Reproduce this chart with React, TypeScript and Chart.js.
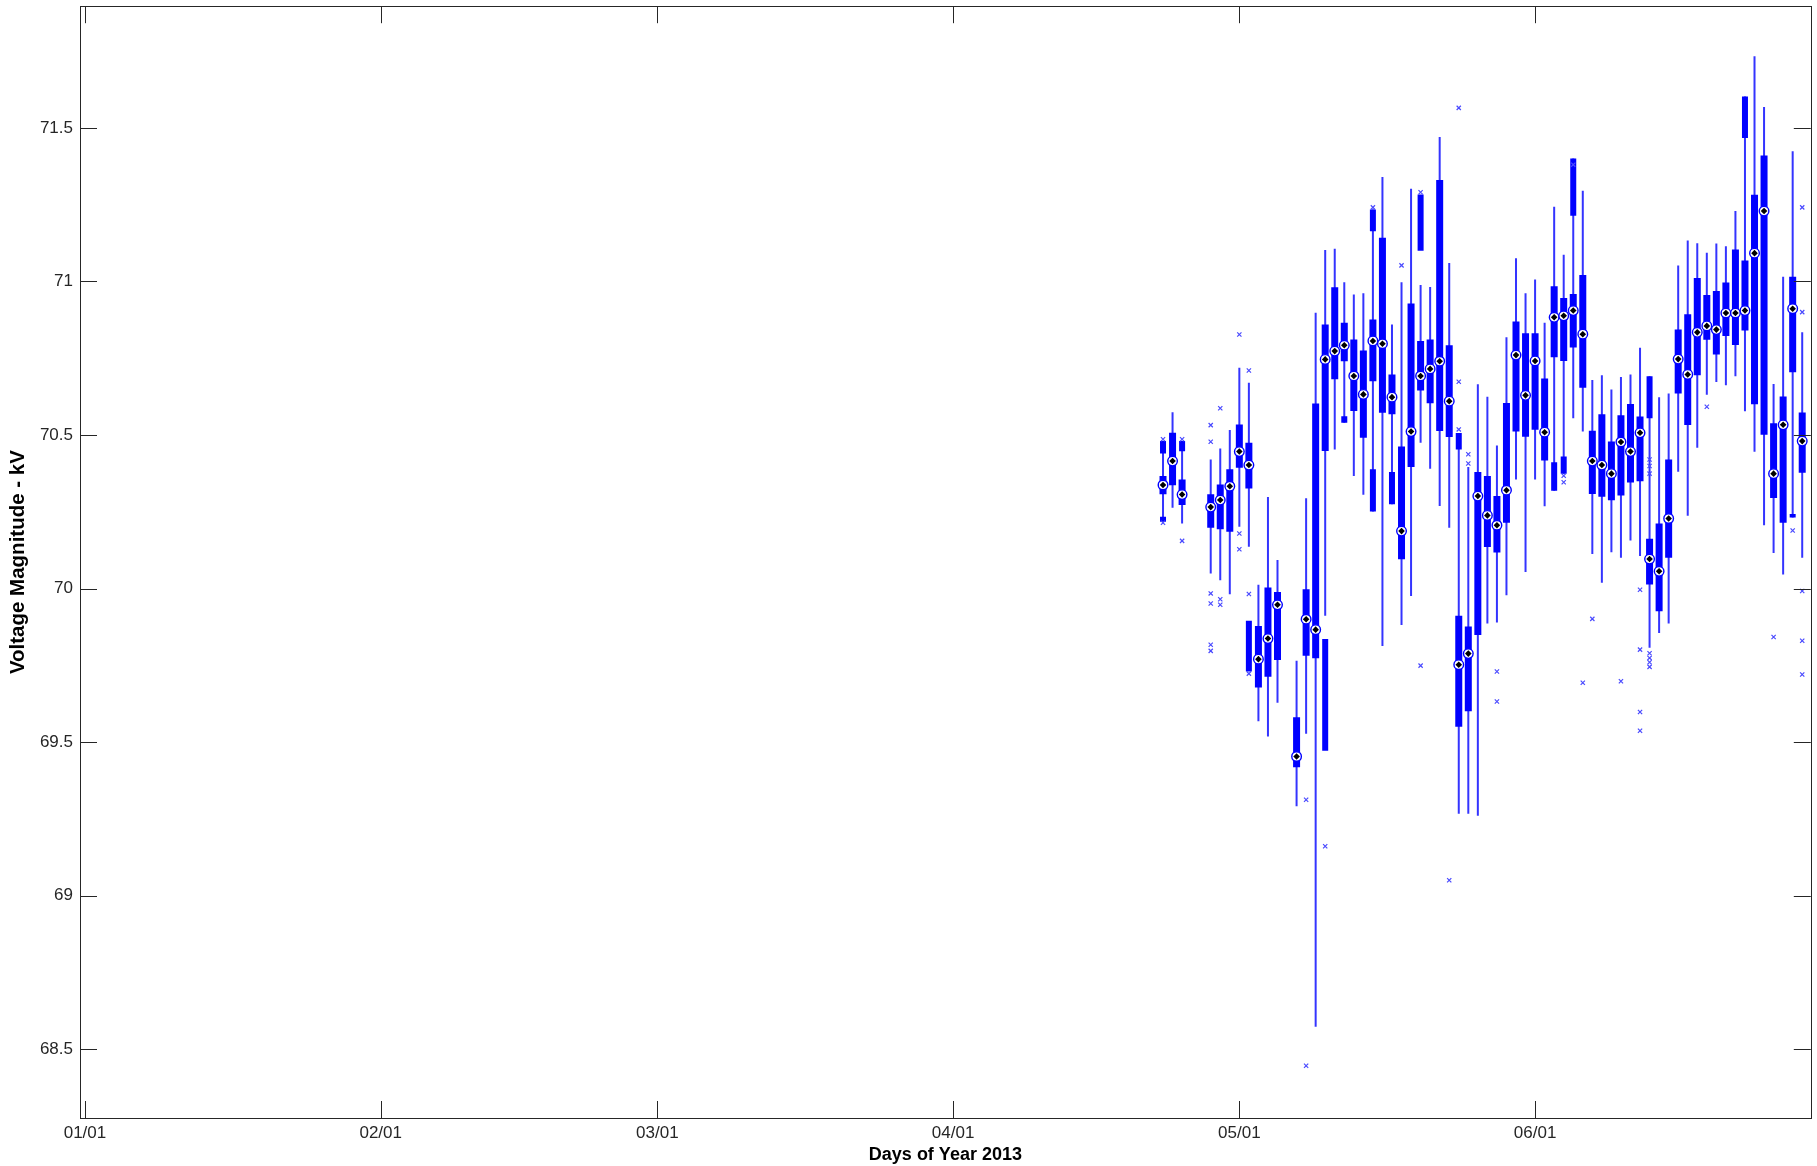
import React, { useEffect, useRef } from 'react';
import { Chart, registerables } from 'chart.js';

Chart.register(...registerables);

// x positions are day numbers counted from 01/01 (tick spacing as in the reference)
const xTickDays = [0, 31, 60, 91, 121, 152];
const xTickLabels = ['01/01', '02/01', '03/01', '04/01', '05/01', '06/01'];
const yTickValues = [68.5, 69, 69.5, 70, 70.5, 71, 71.5];
const yTickLabels = ['68.5', '69', '69.5', '70', '70.5', '71', '71.5'];

const boxDays = [
  113, 114, 115, 118, 119, 120, 121, 122, 123, 124, 125, 127, 128, 129, 130, 131, 132, 133, 134, 135,
  136, 137, 138, 139, 140, 141, 142, 143, 144, 145, 146, 147, 148, 149, 150, 151, 152, 153, 154, 155,
  156, 157, 158, 159, 160, 161, 162, 163, 164, 165, 166, 167, 168, 169, 170, 171, 172, 173, 174, 175,
  176, 177, 178, 179, 180,
];
const medianValues = [
  70.337, 70.415, 70.306, 70.265, 70.288, 70.333, 70.446, 70.402, 69.77, 69.837, 69.947, 69.453, 69.9, 69.866, 70.746, 70.773, 70.792, 70.692, 70.632, 70.806,
  70.797, 70.623, 70.187, 70.511, 70.692, 70.715, 70.74, 70.61, 69.752, 69.788, 70.301, 70.238, 70.206, 70.32, 70.76, 70.629, 70.741, 70.509, 70.883, 70.888,
  70.905, 70.828, 70.415, 70.402, 70.374, 70.477, 70.446, 70.507, 70.096, 70.056, 70.228, 70.747, 70.697, 70.834, 70.855, 70.843, 70.897, 70.897, 70.905, 71.092,
  71.229, 70.374, 70.533, 70.911, 70.48,
];
const boxLow = [
  70.307, 70.336, 70.272, 70.198, 70.193, 70.185, 70.393, 70.326, 69.678, 69.713, 69.767, 69.418, 69.781, 69.773, 70.448, 70.681, 70.74, 70.578, 70.491, 70.675,
  70.572, 70.567, 70.095, 70.396, 70.645, 70.603, 70.513, 70.493, 69.55, 69.6, 69.849, 70.135, 70.117, 70.214, 70.511, 70.494, 70.517, 70.417, 70.753, 70.741,
  70.785, 70.654, 70.308, 70.299, 70.287, 70.303, 70.345, 70.349, 70.013, 69.926, 70.1, 70.635, 70.532, 70.694, 70.81, 70.762, 70.822, 70.793, 70.84, 70.6,
  70.501, 70.295, 70.214, 70.704, 70.377,
];
const boxHigh = [
  70.366, 70.507, 70.355, 70.307, 70.339, 70.388, 70.534, 70.475, 69.878, 70.003, 69.989, 69.581, 69.998, 70.602, 70.86, 70.981, 70.865, 70.811, 70.775, 70.876,
  71.142, 70.697, 70.462, 70.928, 70.806, 70.811, 71.33, 70.792, 69.911, 69.876, 70.379, 70.366, 70.301, 70.604, 70.869, 70.831, 70.831, 70.684, 70.984, 70.946,
  70.959, 71.021, 70.514, 70.567, 70.479, 70.564, 70.601, 70.56, 70.162, 70.212, 70.42, 70.843, 70.893, 71.011, 70.956, 70.969, 70.996, 71.104, 71.068, 71.282,
  71.41, 70.538, 70.625, 71.015, 70.573,
];
const whiskerLow = [
  70.217, 70.263, 70.212, 70.049, 70.027, 69.981, 70.201, 70.136, 69.568, 69.518, 69.628, 69.291, 69.527, 68.573, 69.911, 70.453, 70.54, 70.366, 70.305, 70.251,
  69.813, 70.274, 69.881, 69.976, 70.475, 70.39, 70.269, 70.198, 69.267, 69.267, 69.26, 69.886, 69.889, 69.978, 70.355, 70.054, 70.355, 70.268, 70.318, 70.374,
  70.554, 70.511, 70.112, 70.019, 70.118, 70.1, 70.156, 70.106, 69.807, 69.855, 69.886, 70.38, 70.237, 70.458, 70.631, 70.672, 70.662, 70.691, 70.577, 70.445,
  70.206, 70.116, 70.046, 70.231, 70.1,
];
const whiskerHigh = [
  70.48, 70.574, 70.48, 70.42, 70.456, 70.516, 70.719, 70.67, 70.012, 70.298, 70.093, 69.765, 70.294, 70.898, 71.102, 71.106, 70.997, 70.957, 70.961, 71.234,
  71.34, 70.86, 70.997, 71.302, 70.988, 70.982, 71.47, 71.06, 70.506, 70.396, 70.665, 70.624, 70.466, 70.818, 71.075, 70.961, 71.006, 70.865, 71.243, 71.087,
  71.4, 71.295, 70.679, 70.694, 70.648, 70.689, 70.697, 70.784, 70.691, 70.623, 70.635, 71.052, 71.133, 71.124, 71.093, 71.123, 71.114, 71.229, 71.602, 71.733,
  71.568, 70.666, 71.015, 71.424, 70.834,
];

// dense runs of outliers that render as solid bars
const clusterDays = [113, 113, 115, 122, 130, 132, 135, 135, 137, 140, 144, 154, 155, 156, 164, 174, 179];
const clusterLow = [70.44, 70.217, 70.447, 69.73, 69.472, 70.54, 71.163, 70.251, 70.274, 71.1, 70.453, 70.318, 70.374, 71.214, 70.554, 71.467, 70.231];
const clusterHigh = [70.48, 70.234, 70.48, 69.895, 69.836, 70.561, 71.234, 70.388, 70.379, 71.283, 70.506, 70.411, 70.43, 71.4, 70.691, 71.602, 70.243];

const outlierDays = [
  113, 113, 115, 115, 118, 118, 118, 118, 118, 118, 119, 119, 119, 121, 121, 121, 122, 122, 122, 128,
  128, 130, 135, 138, 140, 140, 143, 144, 144, 144, 145, 145, 148, 148, 155, 155, 156, 157, 158, 161,
  163, 163, 163, 163, 164, 164, 164, 164, 164, 164, 164, 170, 177, 179, 180, 180, 180, 180, 180,
];
const outlierValues = [
  70.486, 70.214, 70.486, 70.155, 70.532, 70.478, 69.984, 69.951, 69.817, 69.797, 70.587, 69.965, 69.947, 70.827, 70.179, 70.128, 70.71, 69.982, 69.723, 69.312,
  68.446, 69.161, 71.241, 71.052, 71.29, 69.749, 69.05, 71.565, 70.673, 70.518, 70.437, 70.407, 69.73, 69.632, 70.367, 70.346, 71.38, 69.693, 69.901, 69.698,
  69.996, 69.801, 69.598, 69.537, 70.42, 70.399, 70.374, 69.789, 69.774, 69.76, 69.745, 70.592, 69.842, 70.189, 71.241, 70.9, 69.992, 69.83, 69.72,
];

const FONT = '"Liberation Sans", Arial, Helvetica, sans-serif';
const AXIS_COLOR = '#262626';
const TICK_LEN = 17;

const framePlugin = {
  id: 'matlabFrame',
  afterDraw(chart: any) {
    const { ctx, chartArea, scales } = chart;
    const { left, right, top, bottom } = chartArea;
    ctx.save();
    ctx.strokeStyle = AXIS_COLOR;
    ctx.lineWidth = 1;
    ctx.beginPath();
    xTickDays.forEach((d) => {
      const px = Math.round(scales.x.getPixelForValue(d)) + 0.5;
      ctx.moveTo(px, bottom);
      ctx.lineTo(px, bottom - TICK_LEN);
      ctx.moveTo(px, top);
      ctx.lineTo(px, top + TICK_LEN);
    });
    yTickValues.forEach((v) => {
      const py = Math.round(scales.y.getPixelForValue(v)) + 0.5;
      ctx.moveTo(left, py);
      ctx.lineTo(left + TICK_LEN, py);
      ctx.moveTo(right, py);
      ctx.lineTo(right - TICK_LEN, py);
    });
    ctx.stroke();
    ctx.strokeRect(Math.round(left) + 0.5, Math.round(top) + 0.5, Math.round(right - left), Math.round(bottom - top));
    ctx.restore();
  },
};

export default function App() {
  const ref = useRef<HTMLCanvasElement>(null);

  useEffect(() => {
    document.body.style.margin = '0';
    const canvas = ref.current;
    if (!canvas) return;

    const whiskerData = boxDays.map((d, i) => ({ x: d, y: [whiskerLow[i], whiskerHigh[i]] }));
    const boxData = boxDays.map((d, i) => ({ x: d, y: [boxLow[i], boxHigh[i]] }));
    const clusterData = clusterDays.map((d, i) => ({ x: d, y: [clusterLow[i], clusterHigh[i]] }));
    const medianData = boxDays.map((d, i) => ({ x: d, y: medianValues[i] }));
    const outlierData = outlierDays.map((d, i) => ({ x: d, y: outlierValues[i] }));

    const chart = new Chart(canvas, {
      type: 'bar',
      data: {
        datasets: [
          {
            type: 'bar',
            label: 'whiskers',
            data: whiskerData as any,
            backgroundColor: '#3434ff',
            borderWidth: 0,
            barThickness: 2,
            maxBarThickness: 2,
            grouped: false,
            inflateAmount: 0,
            order: 6,
          } as any,
          {
            type: 'bar',
            label: 'boxes',
            data: boxData as any,
            backgroundColor: '#0000ff',
            borderWidth: 0,
            barThickness: 7,
            maxBarThickness: 7,
            grouped: false,
            inflateAmount: 0,
            order: 5,
          } as any,
          {
            type: 'bar',
            label: 'outlier runs',
            data: clusterData as any,
            backgroundColor: '#0000ff',
            borderWidth: 0,
            barThickness: 6,
            maxBarThickness: 6,
            grouped: false,
            inflateAmount: 0,
            order: 4,
          } as any,
          {
            type: 'scatter',
            label: 'outliers',
            data: outlierData,
            pointStyle: 'crossRot',
            pointRadius: 3,
            borderColor: '#4a4aff',
            backgroundColor: '#4a4aff',
            pointBorderWidth: 1.2,
            order: 3,
          } as any,
          {
            type: 'scatter',
            label: 'median ring',
            data: medianData,
            pointStyle: 'circle',
            pointRadius: 4.8,
            backgroundColor: '#ffffff',
            borderColor: '#0000ff',
            pointBorderWidth: 1.4,
            order: 2,
          } as any,
          {
            type: 'scatter',
            label: 'median',
            data: medianData,
            pointStyle: 'rectRot',
            pointRadius: 3.3,
            backgroundColor: '#000000',
            borderColor: '#000000',
            pointBorderWidth: 0,
            order: 1,
          } as any,
        ],
      },
      options: {
        responsive: false,
        animation: false,
        devicePixelRatio: 1,
        layout: { padding: { top: 5, right: 3, bottom: 0, left: 0 } },
        plugins: {
          legend: { display: false },
          tooltip: { enabled: false },
        },
        scales: {
          x: {
            type: 'linear',
            min: -0.52,
            max: 180.9,
            offset: false,
            grid: { display: false, drawTicks: false },
            border: { display: false },
            afterBuildTicks: (scale: any) => {
              scale.ticks = xTickDays.map((v) => ({ value: v }));
            },
            afterFit: (scale: any) => {
              scale.height = 48;
              scale.paddingLeft = 0;
              scale.paddingRight = 0;
            },
            ticks: {
              autoSkip: false,
              maxRotation: 0,
              padding: 5,
              color: AXIS_COLOR,
              font: { family: FONT, size: 17 },
              callback: (_v: any, i: number) => xTickLabels[i],
            },
            title: {
              display: true,
              text: 'Days of Year 2013',
              color: '#000000',
              font: { family: FONT, size: 18, weight: 'bold' },
              padding: { top: 0, bottom: 0 },
            },
          },
          y: {
            type: 'linear',
            min: 68.276,
            max: 71.896,
            grid: { display: false, drawTicks: false },
            border: { display: false },
            afterBuildTicks: (scale: any) => {
              scale.ticks = yTickValues.map((v) => ({ value: v }));
            },
            afterFit: (scale: any) => {
              scale.width = 80;
              scale.paddingTop = 0;
              scale.paddingBottom = 0;
            },
            ticks: {
              padding: 7,
              color: AXIS_COLOR,
              font: { family: FONT, size: 17 },
              callback: (_v: any, i: number) => yTickLabels[i],
            },
            title: {
              display: true,
              text: 'Voltage Magnitude - kV',
              color: '#000000',
              font: { family: FONT, size: 20.5, weight: 'bold' },
              padding: { top: 6, bottom: 0 },
            },
          },
        },
      },
      plugins: [framePlugin],
    } as any);

    return () => chart.destroy();
  }, []);

  return (
    <canvas
      ref={ref}
      width={1817}
      height={1166}
      style={{ display: 'block', width: '1817px', height: '1166px' }}
    />
  );
}
